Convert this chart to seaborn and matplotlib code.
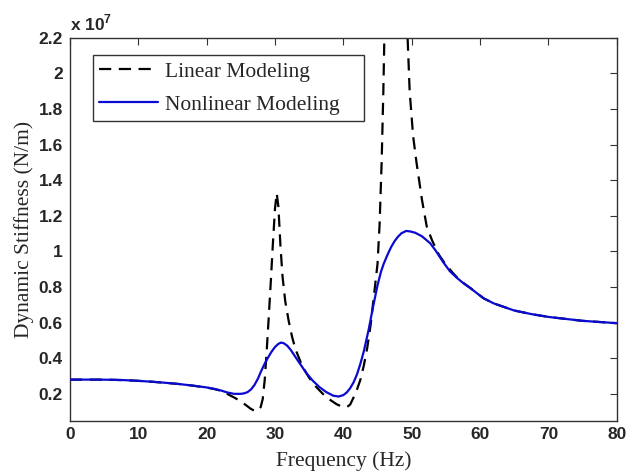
import matplotlib
matplotlib.use("Agg")
import matplotlib.pyplot as plt
import seaborn as sns
import pandas as pd

# values, stiffness in units of 1e7 N/m
f_linear = [0, 2, 4, 6, 8, 10, 12, 14, 16, 18, 20, 21, 22, 23, 24, 25, 25.8, 26.5,
            27.0, 27.5, 27.9, 28.2, 28.5, 28.8, 29.1, 29.4, 29.7, 30.0, 30.25, 30.5,
            30.8, 31.1, 31.5, 32.0, 32.5, 33.0, 34.0, 35.0, 36.0, 37.0, 38.0, 39.0,
            39.8, 40.5, 41.0, 41.5, 42.0, 42.5, 43.0, 43.5, 44.0, 44.5, 45.0, 45.3,
            45.6, 45.85, 46.05, 46.6, 47.7, 48.8, 49.3, 49.7, 50.2, 50.7, 51.5, 52.2,
            53.0, 54.0, 55.0, 56.0, 56.6, 57.6, 58.6, 60.5, 62.0, 65.0, 67.5, 70.0,
            75.0, 80.0]
k_linear = [0.280, 0.280, 0.280, 0.279, 0.277, 0.273, 0.268, 0.262, 0.255, 0.246,
            0.235, 0.228, 0.218, 0.200, 0.180, 0.158, 0.135, 0.115, 0.105, 0.105,
            0.125, 0.170, 0.280, 0.450, 0.640, 0.840, 1.050, 1.240, 1.327, 1.250,
            1.030, 0.860, 0.720, 0.610, 0.520, 0.450, 0.355, 0.290, 0.240, 0.200,
            0.168, 0.142, 0.128, 0.125, 0.140, 0.180, 0.225, 0.280, 0.360, 0.460,
            0.590, 0.760, 0.930, 1.150, 1.500, 1.900, 2.300, 3.000, 3.400, 3.000,
            2.300, 1.900, 1.650, 1.500, 1.290, 1.140, 1.060, 0.980, 0.925, 0.880,
            0.855, 0.822, 0.794, 0.737, 0.708, 0.668, 0.648, 0.632, 0.610, 0.597]

f_nonlinear = [0, 2, 4, 6, 8, 10, 12, 14, 16, 18, 20, 21, 22, 23, 24, 25, 25.5, 26,
               26.5, 27, 27.5, 28, 28.5, 29, 29.5, 30, 30.5, 30.9, 31.3, 31.8, 32.3,
               32.8, 33.5, 34.6, 35.5, 36.5, 37.5, 38.5, 39.3, 40.0, 40.5, 41.0, 41.5,
               42.0, 42.5, 43.0, 43.7, 44.3, 45.0, 45.5, 45.9, 46.5, 47.0, 47.5, 48.0,
               48.5, 49.2, 49.8, 50.5, 51.5, 52.7, 53.5, 54.6, 55.6, 56.6, 57.6, 58.6,
               60.5, 62.0, 65.0, 67.5, 70.0, 75.0, 80.0]
k_nonlinear = [0.280, 0.280, 0.280, 0.279, 0.277, 0.273, 0.268, 0.262, 0.255, 0.246,
               0.236, 0.229, 0.220, 0.208, 0.200, 0.200, 0.203, 0.210, 0.225, 0.250,
               0.285, 0.330, 0.370, 0.405, 0.437, 0.463, 0.481, 0.488, 0.484, 0.470,
               0.447, 0.418, 0.378, 0.316, 0.275, 0.238, 0.210, 0.190, 0.185, 0.193,
               0.208, 0.232, 0.265, 0.310, 0.370, 0.440, 0.560, 0.680, 0.810, 0.885,
               0.930, 0.985, 1.025, 1.058, 1.083, 1.102, 1.115, 1.112, 1.105, 1.085,
               1.046, 1.005, 0.940, 0.888, 0.852, 0.820, 0.793, 0.737, 0.708, 0.668,
               0.648, 0.632, 0.610, 0.597]

x_ticks = [0, 10, 20, 30, 40, 50, 60, 70, 80]
y_ticks = [0.2, 0.4, 0.6, 0.8, 1.0, 1.2, 1.4, 1.6, 1.8, 2.0, 2.2]

lin = pd.DataFrame({"f": f_linear, "k": k_linear})
nonlin = pd.DataFrame({"f": f_nonlinear, "k": k_nonlinear})

sns.set_style("white")
plt.rcParams["font.family"] = ["Liberation Sans", "DejaVu Sans"]
plt.rcParams["mathtext.fontset"] = "custom"
plt.rcParams["mathtext.rm"] = "Liberation Sans"
plt.rcParams["mathtext.bf"] = "Liberation Sans:bold"

fig = plt.figure(figsize=(6.3, 4.72), dpi=100)
ax = fig.add_axes([0.111, 0.109, 0.868, 0.811])

sns.lineplot(data=lin, x="f", y="k", ax=ax, color="black", lw=1.6,
             linestyle=(0, (5.5, 3.4)), label="Linear Modeling", zorder=2)
sns.lineplot(data=nonlin, x="f", y="k", ax=ax, color="#0a0ad2", lw=1.6,
             label="Nonlinear Modeling", zorder=3)

ax.set_xlim(0, 80)
ax.set_ylim(0.05, 2.2)
ax.set_xticks(x_ticks)
ax.set_yticks(y_ticks)
ax.set_yticklabels([f"{v:g}" for v in y_ticks])

ax.tick_params(direction="in", length=5, width=0.8, color="#333333",
               top=True, right=True, labelsize=12.5, pad=5)
for lab in ax.get_xticklabels() + ax.get_yticklabels():
    lab.set_fontweight("bold")
for s in ax.spines.values():
    s.set_color("#333333")
    s.set_linewidth(1.0)

ax.set_xlabel("Frequency (Hz)", family="Liberation Serif", fontsize=15.5, labelpad=6)
ax.set_ylabel("Dynamic Stiffness (N/m)", family="Liberation Serif", fontsize=15.5,
              labelpad=3)

ax.text(0.0, 1.012, r"x 10$^{\mathbf{7}}$", transform=ax.transAxes, ha="left",
        va="bottom", fontsize=12.5, fontweight="bold")

leg = ax.legend(loc="upper left", bbox_to_anchor=(0.0415, 0.781, 0.4965, 0.174),
                mode="expand", frameon=True,
                fancybox=False, framealpha=1, edgecolor="#333333",
                prop={"family": "Liberation Serif", "size": 15.5},
                handlelength=2.75, handletextpad=0.3, borderpad=0.3,
                labelspacing=0.62, borderaxespad=0)
leg.get_frame().set_linewidth(1.0)

fig.savefig("out.png", dpi=100)
